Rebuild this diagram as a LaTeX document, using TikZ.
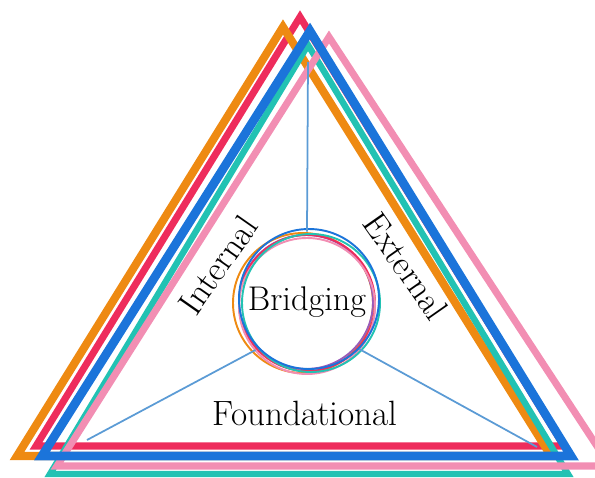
\documentclass[tikz,border=0pt]{standalone}
\usepackage{tikz}

\definecolor{sideorange}{HTML}{EE8A12}
\definecolor{sidered}{HTML}{EE2C5C}
\definecolor{sideblue}{HTML}{1B74DA}
\definecolor{sideteal}{HTML}{22C2B3}
\definecolor{sidepink}{HTML}{F28EB3}
\definecolor{sidepurple}{HTML}{9A5BB8}
\definecolor{spokeblue}{HTML}{5B9BD5}

\begin{document}
\begin{tikzpicture}
    [x=0.02cm,y=-0.02cm,every node/.style={font=\fontsize{20}{24}\selectfont},
     side/.style={line width=4pt,line join=miter},
     ring/.style={line width=1.1pt},
     spoke/.style={draw=spokeblue,line width=1pt}]
      \useasboundingbox (0,0) rectangle (595,477);

      % the five offset triangles
      \draw[side,sidered]                     (300,17) -- (36,446)  -- (564,446) -- cycle;
      \draw[side,sideorange,line width=4.6pt] (283,27) -- (17,456)  -- (551,456) -- cycle;
      \draw[side,sideteal,line width=3.6pt]   (308,45) -- (50,474)  -- (568,474) -- cycle;
      \draw[side,sidepink]                    (329,37) -- (57,466)  -- (610,466) -- cycle;
      \draw[side,sideblue,line width=5pt]     (310,31) -- (42,456)  -- (571,456) -- cycle;

      \node (bridge)[circle,minimum size=2.8cm,inner sep=0pt,
                     font=\fontsize{19.5}{23}\selectfont] at (307,302) {Bridging};

      % rings round the middle
      \foreach \c/\dx/\dy/\r in {sideorange/-4/1/70,sidepurple/-1/0/67,sidered/0/1/68,
                                 sidepink/0/4/68,sideteal/4/1/69,sideblue/2/-3/70}
	\draw[ring,\c] (307+\dx,302+\dy) circle (\r);

      \coordinate (topend)   at (308,62);
      \coordinate (leftend)  at (87,440);
      \coordinate (rightend) at (537,447);

      \foreach \from/\to in {bridge.north/topend,bridge.223/leftend,bridge.318/rightend}
	\draw[spoke] (\from) -- (\to);

      \node (internal)[rotate=55]      at (218,265) {Internal};
      \node (external)[rotate=-55]     at (406,266) {External};
      \node (foundational)             at (305,413) {Foundational};
    \end{tikzpicture}
\end{document}
